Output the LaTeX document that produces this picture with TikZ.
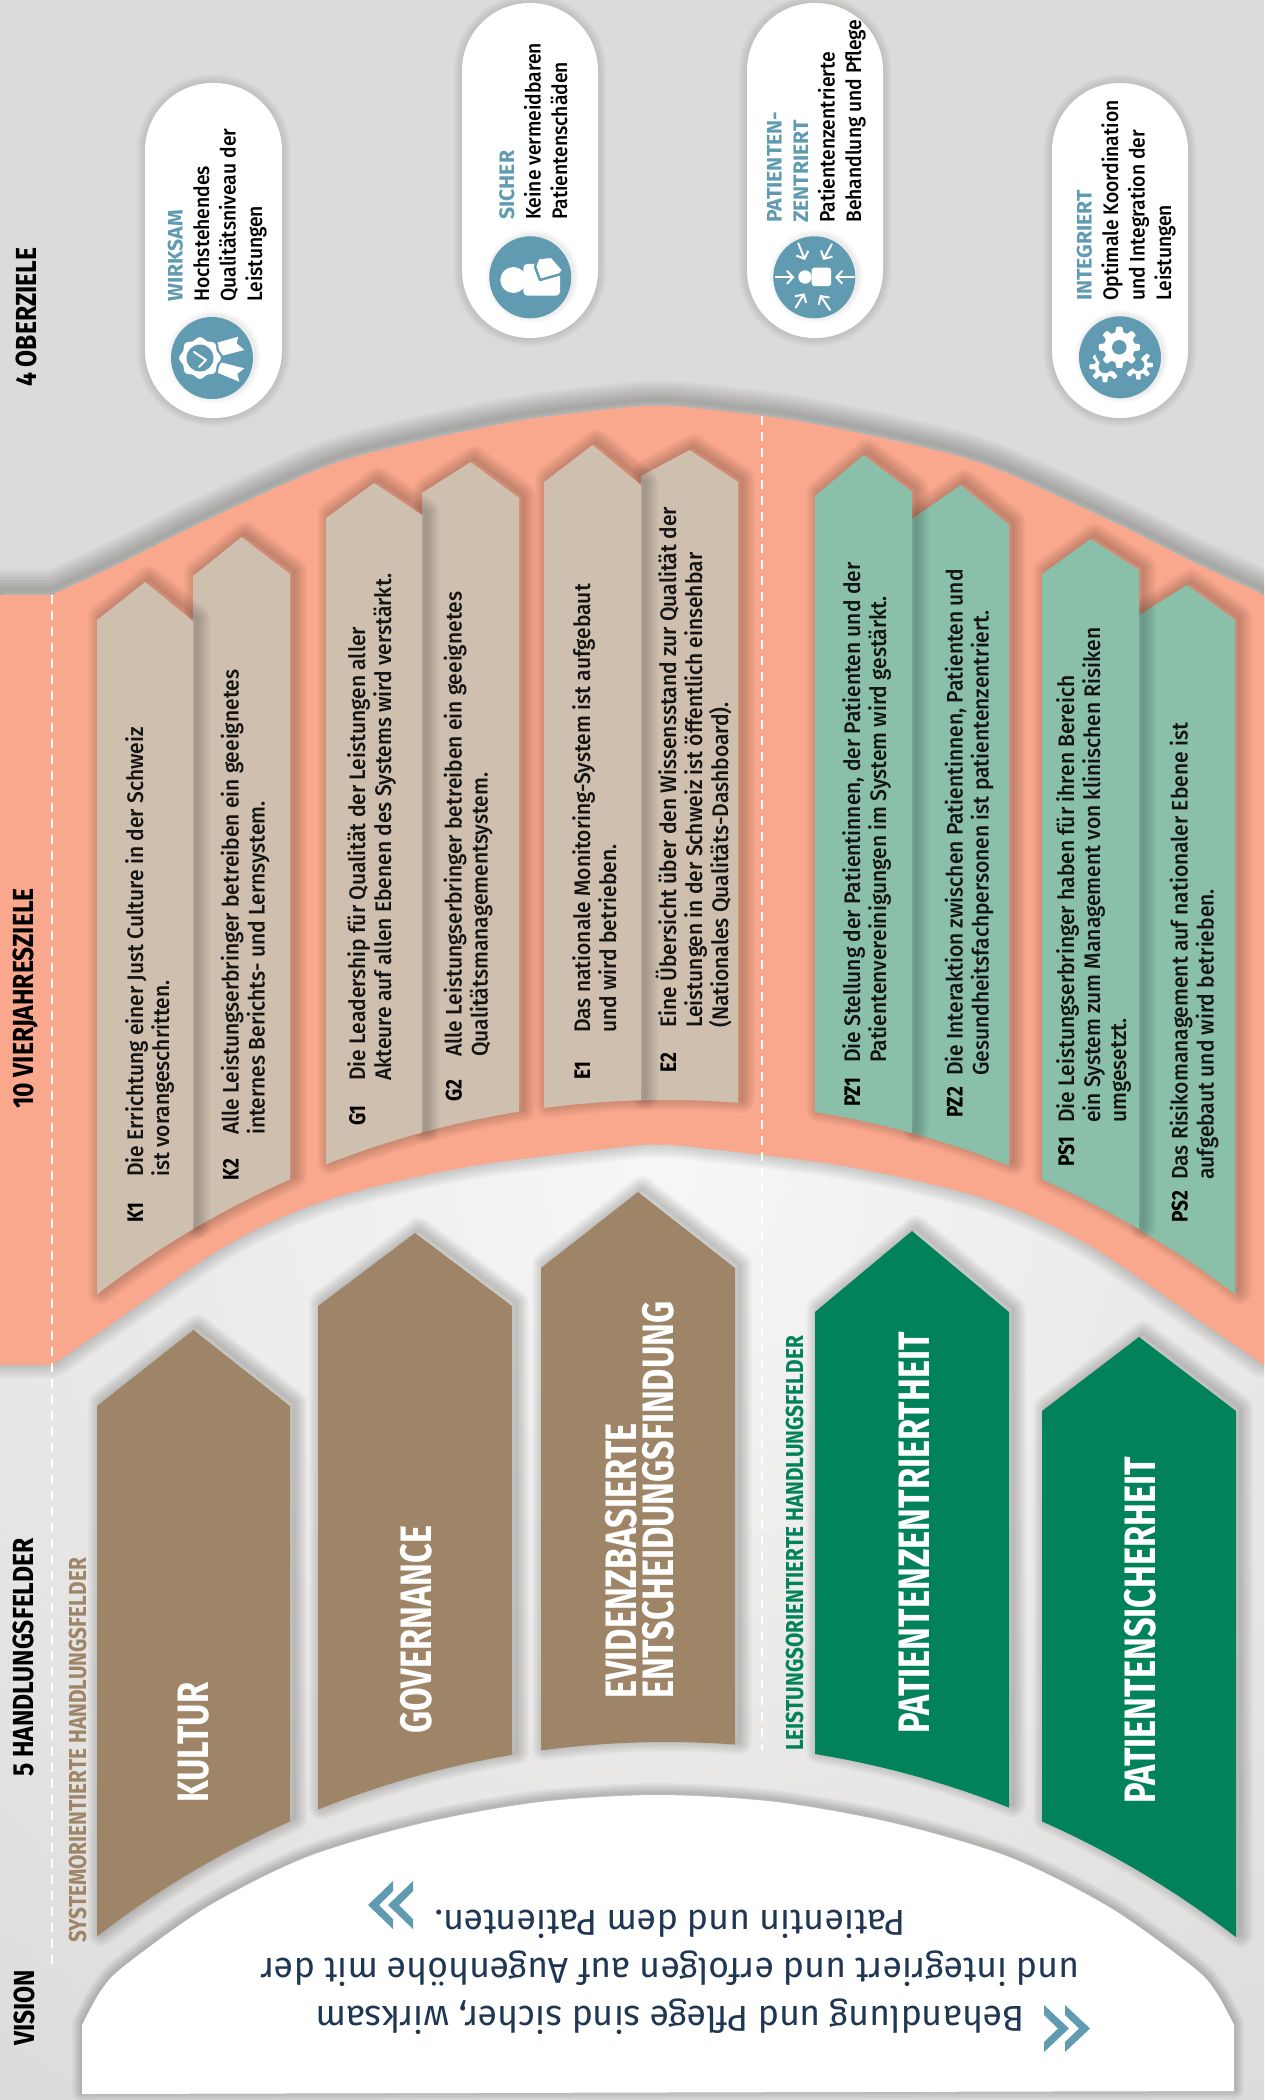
\documentclass[tikz,border=0pt]{standalone}
\usepackage{fontspec}
\usetikzlibrary{arrows.meta}
\setmainfont{Fira Sans}
\newfontfamily\fbody[FakeStretch=0.935]{Fira Sans Medium}
\newfontfamily\fpill[FakeStretch=0.92]{Fira Sans Medium}
\newfontfamily\fhead[FakeStretch=0.85]{Fira Sans}
\newfontfamily\fphead[FakeStretch=1.01]{Fira Sans}
\newfontfamily\ffield[FakeStretch=0.78]{Fira Sans}
\newfontfamily\fvis[FakeStretch=0.99]{Fira Sans}
\definecolor{bgc}{HTML}{DCDBDA}
\definecolor{salmon}{HTML}{F9A78D}
\definecolor{tanl}{HTML}{CEBFAE}
\definecolor{greenl}{HTML}{8ABFAA}
\definecolor{tand}{HTML}{9E8567}
\definecolor{greend}{HTML}{02825B}
\definecolor{iconblue}{HTML}{619BB2}
\definecolor{visiontx}{HTML}{1F3753}
% shadowed fill: dx, dy, opacity, list of widths, colour, path
\newcommand{\shapefill}[6]{%
  \foreach \sw in {#4}{\draw[black,opacity=#3,line width=\sw pt,line join=round,xshift=#1pt,yshift=#2pt] #6;}
  \fill[#5] #6;}
\newcommand{\goal}[7]{%
  \shapefill{4}{3}{0.022}{2,5,8,11,14,17,20,23,26}{#1}{(#2,#4) -- ({(#2+#3)/2},#5) -- (#3,#6) -- plot[domain=#3:#2,samples=14] (\x,{#7+930*(1-sqrt(1-((\x-666)/930)^2))}) -- cycle}}
\newcommand{\pill}[4]{%
  \shapefill{0}{0}{0.02}{2,5,8,11,14,17}{white}{[rounded corners=67.5pt] (#1,#3) rectangle (#2,#4)}}
\newcommand{\disc}[3]{%
  \shapefill{2}{1}{0.02}{2,5,8,11}{iconblue}{(#1,#2) circle (#3)}}
\newcommand{\gearshape}[4]{% cx cy r teeth
  plot[domain=0:360,samples=121] ({#1+(#3+2.6*max(-1,min(1,2.5*cos(#4*\x))))*cos(\x)},{#2+(#3+2.6*max(-1,min(1,2.5*cos(#4*\x))))*sin(\x)}) -- cycle}
\tikzset{
  rot/.style={rotate=90,anchor=base west,inner sep=0pt,align=left},
  goaltx/.style={rot,text=black!92,font=\fontsize{22.5}{26}\selectfont\fbody},
  goaltag/.style={rot,text=black,font=\fontsize{22.5}{26}\selectfont\fhead\bfseries},
  sect/.style={rot,text=black,font=\fontsize{29}{29}\selectfont\fhead\bfseries},
  subsect/.style={rot,font=\fontsize{24.5}{24.5}\selectfont\fhead\bfseries},
  fieldtx/.style={rot,text=white,font=\fontsize{44}{37}\selectfont\ffield\bfseries},
  pilltx/.style={rot,text=black,font=\fontsize{21}{26.5}\selectfont\fpill},
  dashline/.style={white,line width=2.5pt,dash pattern=on 9pt off 7pt},
  chev/.style={fill=iconblue},
  icon/.style={white,line width=2pt,line cap=round,line join=round},
  ar/.style={white,line width=2pt,line cap=round,-{Straight Barb[length=6pt,width=13pt,line width=2pt]}}
}
\newcommand{\pillhead}[1]{{\color{iconblue}\fphead\bfseries #1}}
\begin{document}
\begin{tikzpicture}[x=1pt,y=-1pt]
\useasboundingbox (0,0) rectangle (1264,2100);
\fill[bgc] (0,0) rectangle (1264,2100);
\begin{scope}
  \clip (0,1000) rectangle (1264,2100);
  \shade[inner color=white!75!bgc!95!white,outer color=bgc] (662,1170) circle (1150pt);
\end{scope}
% salmon band
\begin{scope}
\clip (0,0) rectangle (1264,2100);
\shapefill{0}{6}{0.032}{3,8,13,18,23,28,33,38}{salmon}{(0,595) -- (52,595) -- plot[smooth] coordinates {(52,595) (121,563) (201,523) (322,468) (403,445) (524,420) (632,407) (658,406) (684,407) (792,420) (913,445) (994,468) (1115,523) (1195,563) (1264,595)} -- (1264,1365) -- plot[smooth] coordinates {(1264,1365) (1216,1332) (1089,1245) (989,1200) (850,1167) (684,1146) (658,1145) (632,1146) (466,1167) (327,1200) (227,1245) (100,1332) (52,1365)} -- (0,1365) -- cycle}
\end{scope}
% goal arrows (tan, green)
\goal{tanl}{193}{290}{576}{537}{574}{1100}
\goal{tanl}{97}{193}{620}{582}{621}{1100}
\goal{tanl}{422}{519}{493}{462}{498}{1100}
\goal{tanl}{326}{422}{518}{483}{515}{1100}
\goal{tanl}{641}{738}{476}{450}{482}{1100}
\goal{tanl}{544}{641}{482}{445}{485}{1100}
\goal{greenl}{912}{1009}{519}{485}{525}{1100}
\goal{greenl}{815}{912}{496}{455}{492}{1100}
\goal{greenl}{1139}{1235}{615}{585}{620}{1100}
\goal{greenl}{1042}{1139}{574}{539}{570}{1100}
% fields
\goal{tand}{97}{290}{1406}{1330}{1406}{1742}
\goal{tand}{318}{512}{1306}{1233}{1306}{1742}
\goal{tand}{541}{735}{1268}{1192}{1268}{1742}
\goal{greend}{815}{1009}{1312}{1231}{1312}{1742}
\goal{greend}{1042}{1236}{1411}{1337}{1411}{1742}
% vision shape
\shapefill{0}{2}{0.032}{2,5,8,11,14,17,20}{white}{(82,2094) -- plot[smooth] coordinates {(82,2025) (100,1992) (123,1967) (207,1907) (307,1857) (423,1823) (540,1802) (658,1795) (776,1802) (893,1823) (1009,1857) (1109,1907) (1193,1967) (1216,1992) (1234,2025)} -- (1234,2091) -- cycle}
% dashed separators
\coordinate (dashA) at (52,595);
\coordinate (dashB) at (52,1966);
\coordinate (dashC) at (762,416);
\coordinate (dashD) at (762,1750);
\draw[dashline] (dashA) -- (dashB);
\draw[dashline] (dashC) -- (dashD);
% section headers
\node[sect] (hOber) at (36,387) {4 OBERZIELE};
\node[sect] (hVier) at (33,1109) {10 VIERJAHRESZIELE};
\node[sect] (hHand) at (33,1777) {5 HANDLUNGSFELDER};
\node[sect] (hVis) at (34,2046) {VISION};
\node[subsect,text=tand] (hSys) at (86,1943) {SYSTEMORIENTIERTE HANDLUNGSFELDER};
\node[subsect,text=greend] (hLei) at (803,1751) {LEISTUNGSORIENTIERTE HANDLUNGSFELDER};
% goal texts (coordinates: start of the last line's baseline)
\node[goaltag] (tK1) at (143,1223) {K1};
\node[goaltx] (xK1) at (169,1177) {Die Errichtung einer Just Culture in der Schweiz\\ist vorangeschritten.};
\node[goaltag] (tK2) at (238.5,1181) {K2};
\node[goaltx] (xK2) at (264.5,1135) {Alle Leistungserbringer betreiben ein geeignetes\\internes Berichts- und Lernsystem.};
\node[goaltag] (tG1) at (365,1126) {G1};
\node[goaltx] (xG1) at (391,1081) {Die Leadership für Qualität der Leistungen aller\\Akteure auf allen Ebenen des Systems wird verstärkt.};
\node[goaltag] (tG2) at (461.5,1102) {G2};
\node[goaltx] (xG2) at (487.5,1057) {Alle Leistungserbringer betreiben ein geeignetes\\Qualitätsmanagementsystem.};
\node[goaltag] (tE1) at (590,1080) {E1};
\node[goaltx] (xE1) at (616,1033) {Das nationale Monitoring-System ist aufgebaut\\und wird betrieben.};
\node[goaltag] (tE2) at (676,1073) {E2};
\node[goaltx] (xE2) at (728,1028) {Eine Übersicht über den Wissensstand zur Qualität der\\Leistungen in der Schweiz ist öffentlich einsehbar\\(Nationales Qualitäts-Dashboard).};
\node[goaltag] (tPZ1) at (860,1107) {PZ1};
\node[goaltx] (xPZ1) at (886,1063) {Die Stellung der Patientinnen, der Patienten und der\\Patientenvereinigungen im System wird gestärkt.};
\node[goaltag] (tPZ2) at (962.5,1118) {PZ2};
\node[goaltx] (xPZ2) at (988.5,1076) {Die Interaktion zwischen Patientinnen, Patienten und\\Gesundheitsfachpersonen ist patientenzentriert.};
\node[goaltag] (tPS1) at (1074,1167) {PS1};
\node[goaltx] (xPS1) at (1126,1123) {Die Leistungserbringer haben für ihren Bereich\\ein System zum Management von klinischen Risiken\\umgesetzt.};
\node[goaltag] (tPS2) at (1187.5,1223) {PS2};
\node[goaltx] (xPS2) at (1213.5,1180) {Das Risikomanagement auf nationaler Ebene ist\\aufgebaut und wird betrieben.};
% field texts
\node[fieldtx] (fK) at (208,1803) {KULTUR};
\node[fieldtx] (fG) at (431,1734) {GOVERNANCE};
\node[fieldtx] (fE) at (673,1699) {EVIDENZBASIERTE\\ENTSCHEIDUNGSFINDUNG};
\node[fieldtx] (fPZ) at (929,1734) {PATIENTENZENTRIERTHEIT};
\node[fieldtx] (fPS) at (1155,1804) {PATIENTENSICHERHEIT};
% vision
\node[rotate=180,inner sep=0pt,align=center,text=visiontx,font=\fontsize{36}{48}\selectfont\fvis] (vis) at (670,1972) {Behandlung und Pflege sind sicher, wirksam\\und integriert und erfolgen auf Augenhöhe mit der\\Patientin und dem Patienten.};
\fill[chev] (1090,2028.5) -- (1065,2005) -- (1065,2015) -- (1079,2028.5) -- (1065,2042) -- (1065,2052) -- cycle;
\fill[chev] (1069,2028.5) -- (1044,2005) -- (1044,2015) -- (1058,2028.5) -- (1044,2042) -- (1044,2052) -- cycle;
\fill[chev] (368,1905) -- (393,1881) -- (393,1891) -- (379,1905) -- (393,1919) -- (393,1929) -- cycle;
\fill[chev] (388,1905) -- (413,1881) -- (413,1891) -- (399,1905) -- (413,1919) -- (413,1929) -- cycle;
% pills
\pill{145}{282}{83}{418}
\pill{462}{598}{3}{338}
\pill{747}{883}{3}{338}
\pill{1052}{1188}{83}{418}
\disc{212}{358}{41}
\disc{530.3}{277.3}{41}
\disc{814.3}{277.3}{41}
\disc{1120}{357.3}{41}
\node[pilltx] (p1) at (262,302) {\pillhead{WIRKSAM}\\Hochstehendes\\Qualitätsniveau der\\Leistungen};
\node[pilltx] (p2) at (567,220) {\pillhead{SICHER}\\Keine vermeidbaren\\Patientenschäden};
\node[pilltx] (p3) at (861,223) {\pillhead{PATIENTEN-}\\\pillhead{ZENTRIERT}\\Patientenzentrierte\\Behandlung und Pflege};
\node[pilltx] (p4) at (1171,301) {\pillhead{INTEGRIERT}\\Optimale Koordination\\und Integration der\\Leistungen};
% icon 1: rosette
\fill[white] (215,343.3) -- (238.3,336.7) -- (236.7,343.3) -- (244.3,350) -- (218.3,356.7) -- cycle;
\fill[white] (218.3,361.7) -- (244.3,368.3) -- (237.3,374) -- (239.3,381.7) -- (215,371.7) -- cycle;
\fill[iconblue] plot[domain=0:360,samples=97] ({200+(22+1.3*cos(8*\x))*cos(\x)},{358+(22+1.3*cos(8*\x))*sin(\x)}) -- cycle;
\fill[white] plot[domain=0:360,samples=97] ({200+(19.5+1.3*cos(8*\x))*cos(\x)},{358+(19.5+1.3*cos(8*\x))*sin(\x)}) -- cycle;
\fill[iconblue] (200,358) circle (13.5);
\draw[icon] (194,352) -- (206,360) -- (199,367);
% icon 2: patient and shield
\fill[white] (513.3,280) circle (13);
\fill[white,rounded corners=4pt] (523.3,264) rectangle (560,295.7);
\filldraw[white,draw=iconblue,line width=2.5pt,line join=round] (538.3,258) -- (551.7,256.7) -- (563.3,270) -- (560,274.3) -- (540,280) -- (535,266.7) -- cycle;
% icon 3: patient centred
\fill[white] (805,277) circle (6.7);
\fill[white,rounded corners=2.5pt] (811.7,267.7) rectangle (831,286);
\draw[ar] (798.3,243.3) -- (805,260);
\draw[ar] (831.7,244.3) -- (823.3,260);
\draw[ar] (775.7,277.3) -- (794.3,277.3);
\draw[ar] (854,277.3) -- (835,277.3);
\draw[ar] (795.7,307.7) -- (804.3,293.3);
\draw[ar] (830,310) -- (820,295);
% icon 4: gears
\fill[white] \gearshape{1105}{366.7}{13}{8};
\fill[white] \gearshape{1138.3}{365}{12}{8};
\fill[iconblue] (1105,366.7) circle (6.5);
\fill[iconblue] (1138.3,365) circle (6);
\fill[iconblue] (1119.3,347.3) circle (25);
\fill[white] \gearshape{1119.3}{347.3}{18}{8};
\fill[iconblue] (1119.3,347.3) circle (7.3);
\end{tikzpicture}
\end{document}
